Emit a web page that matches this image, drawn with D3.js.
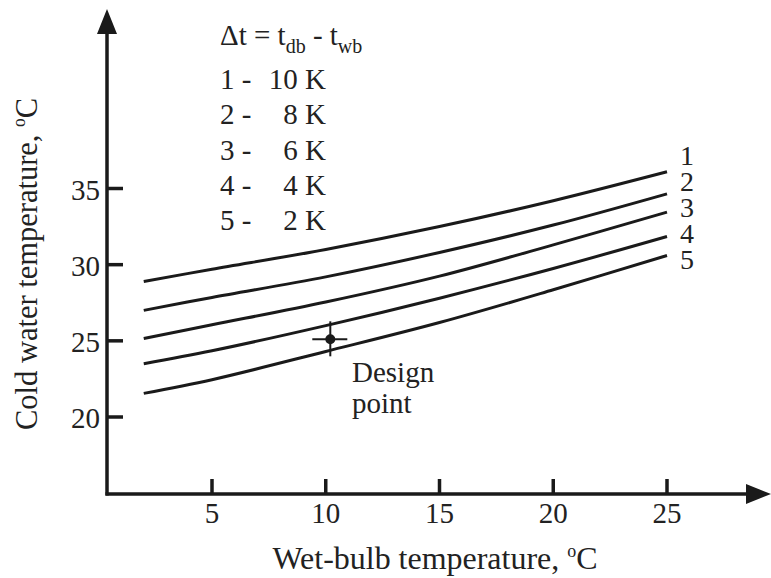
<!DOCTYPE html>
<html>
<head>
<meta charset="utf-8">
<script src="https://cdn.jsdelivr.net/npm/d3@7"></script>
</head>
<body style="margin:0; background:#fff">
<div id="chart"></div>
<script>
// wet-bulb temperature (x) and cold water temperature curves (y)
var wetBulb = [2, 5, 10, 15, 20, 25];
var curve1 = [28.9, 29.7, 31.0, 32.5, 34.2, 36.1];
var curve2 = [27.0, 27.85, 29.2, 30.8, 32.6, 34.65];
var curve3 = [25.15, 26.05, 27.55, 29.25, 31.3, 33.45];
var curve4 = [23.5, 24.35, 26.0, 27.8, 29.75, 31.85];
var curve5 = [21.55, 22.45, 24.3, 26.2, 28.35, 30.6];
var curveNames = ["1", "2", "3", "4", "5"];
var legendLeft = ["1 -", "2 -", "3 -", "4 -", "5 -"];
var legendRight = ["10 K", "8 K", "6 K", "4 K", "2 K"];
var xTicks = [5, 10, 15, 20, 25];
var yTicks = [20, 25, 30, 35];
var designPoint = [10.2, 25.1];

var width = 771, height = 578;

var svg = d3.select("#chart")
            .append("svg")
            .attr("width", width)
            .attr("height", height)
            .style("display", "block")
            .style("font-family", "'Liberation Serif', serif");

var x = d3.scaleLinear().domain([0, 25]).range([98.25, 667]);
var y = d3.scaleLinear().domain([20, 35]).range([417, 188.5]);

var axisX = 107, axisY = 494; //where the two axes meet
var ink = "#1a1a1a";

// axes lines with arrows
svg.append("line")
   .attr("x1", axisX).attr("y1", axisY + 1.5)
   .attr("x2", axisX).attr("y2", 30)
   .attr("stroke", ink).attr("stroke-width", 3.5);
svg.append("path")
   .attr("d", "M" + axisX + ",9 L" + (axisX - 10) + ",34 L" + (axisX + 10) + ",34 Z")
   .attr("fill", ink);
svg.append("line")
   .attr("x1", axisX - 1.5).attr("y1", axisY)
   .attr("x2", 755).attr("y2", axisY)
   .attr("stroke", ink).attr("stroke-width", 3.5);
svg.append("path")
   .attr("d", "M771," + axisY + " L746," + (axisY - 10) + " L746," + (axisY + 10) + " Z")
   .attr("fill", ink);

// y ticks
svg.selectAll(".ytick")
   .data(yTicks)
   .enter()
   .append("line")
   .attr("x1", axisX).attr("x2", axisX + 16)
   .attr("y1", function(d) { return y(d); })
   .attr("y2", function(d) { return y(d); })
   .attr("stroke", ink).attr("stroke-width", 3.5);
svg.selectAll(".ylabel")
   .data(yTicks)
   .enter()
   .append("text")
   .attr("x", 100)
   .attr("y", function(d) { return y(d) + 11; })
   .attr("text-anchor", "end")
   .attr("font-size", 29)
   .attr("fill", "#222")
   .text(function(d) { return d; });

// x ticks
svg.selectAll(".xtick")
   .data(xTicks)
   .enter()
   .append("line")
   .attr("x1", function(d) { return x(d); })
   .attr("x2", function(d) { return x(d); })
   .attr("y1", axisY).attr("y2", axisY - 15)
   .attr("stroke", ink).attr("stroke-width", 3.5);
svg.selectAll(".xlabel")
   .data(xTicks)
   .enter()
   .append("text")
   .attr("x", function(d) { return x(d); })
   .attr("y", 523)
   .attr("text-anchor", "middle")
   .attr("font-size", 29)
   .attr("fill", "#222")
   .text(function(d) { return d; });

// axis titles
var xTitle = svg.append("text")
   .attr("x", 435).attr("y", 569)
   .attr("text-anchor", "middle")
   .attr("font-size", 32)
   .attr("fill", "#222")
   .attr("textLength", 325)
   .attr("lengthAdjust", "spacingAndGlyphs");
xTitle.append("tspan").text("Wet-bulb temperature, ");
xTitle.append("tspan").attr("font-size", 18).attr("dy", -12).text("o");
xTitle.append("tspan").attr("dy", 12).text("C");

var yTitle = svg.append("text")
   .attr("transform", "translate(37,264) rotate(-90)")
   .attr("text-anchor", "middle")
   .attr("font-size", 32)
   .attr("fill", "#222")
   .attr("textLength", 332)
   .attr("lengthAdjust", "spacingAndGlyphs");
yTitle.append("tspan").text("Cold water temperature, ");
yTitle.append("tspan").attr("font-size", 18).attr("dy", -12).text("o");
yTitle.append("tspan").attr("dy", 12).text("C");

// curves
var curves = [curve1, curve2, curve3, curve4, curve5];
var line = d3.line()
             .x(function(d, i) { return x(wetBulb[i]); })
             .y(function(d) { return y(d); })
             .curve(d3.curveCatmullRom);

svg.selectAll(".curve")
   .data(curves)
   .enter()
   .append("path")
   .attr("d", line)
   .attr("fill", "none")
   .attr("stroke", ink)
   .attr("stroke-width", 3);

// curve numbers at the right end
svg.selectAll(".cname")
   .data(curveNames)
   .enter()
   .append("text")
   .attr("x", 680)
   .attr("y", function(d, i) { return 165 + i * 26; })
   .attr("font-size", 28)
   .attr("fill", "#222")
   .text(function(d) { return d; });

// legend
var legend = svg.append("text")
   .attr("x", 220).attr("y", 45)
   .attr("font-size", 29)
   .attr("fill", "#222");
legend.append("tspan").text("\u0394t = t");
legend.append("tspan").attr("font-size", 20).attr("dy", 8).text("db");
legend.append("tspan").attr("dy", -8).text(" - t");
legend.append("tspan").attr("font-size", 20).attr("dy", 8).text("wb");

svg.selectAll(".legl")
   .data(legendLeft)
   .enter()
   .append("text")
   .attr("x", 220)
   .attr("y", function(d, i) { return 89 + i * 35.3; })
   .attr("font-size", 29)
   .attr("fill", "#222")
   .text(function(d) { return d; });
svg.selectAll(".legr")
   .data(legendRight)
   .enter()
   .append("text")
   .attr("x", 326)
   .attr("y", function(d, i) { return 89 + i * 35.3; })
   .attr("text-anchor", "end")
   .attr("font-size", 29)
   .attr("fill", "#222")
   .text(function(d) { return d; });

// design point
var px = x(designPoint[0]), py = y(designPoint[1]);
svg.append("line")
   .attr("x1", px - 18).attr("x2", px + 17).attr("y1", py).attr("y2", py)
   .attr("stroke", ink).attr("stroke-width", 2);
svg.append("line")
   .attr("x1", px).attr("x2", px).attr("y1", py - 18).attr("y2", py + 17)
   .attr("stroke", ink).attr("stroke-width", 2);
svg.append("circle")
   .attr("cx", px).attr("cy", py).attr("r", 5)
   .attr("fill", ink);
svg.append("text")
   .attr("x", 352).attr("y", 382)
   .attr("font-size", 29)
   .attr("fill", "#222")
   .text("Design");
svg.append("text")
   .attr("x", 352).attr("y", 413)
   .attr("font-size", 29)
   .attr("fill", "#222")
   .text("point");
</script>
</body>
</html>
